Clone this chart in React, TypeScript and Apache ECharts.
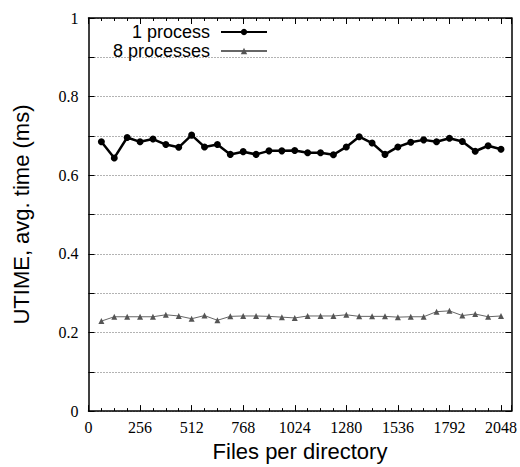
import React, { useEffect, useRef } from 'react';
import * as echarts from 'echarts';

// Files per directory at which each run was measured
const filesPerDirectory = [
  64, 128, 192, 256, 320, 384, 448, 512, 576, 640, 704, 768, 832, 896, 960, 1024,
  1088, 1152, 1216, 1280, 1344, 1408, 1472, 1536, 1600, 1664, 1728, 1792, 1856, 1920, 1984, 2048,
];

// Average UTIME (ms), one process
const oneProcess = [
  0.685, 0.644, 0.696, 0.685, 0.692, 0.678, 0.671, 0.702, 0.672, 0.678, 0.653, 0.66, 0.653, 0.662, 0.662, 0.663,
  0.657, 0.657, 0.652, 0.672, 0.698, 0.682, 0.653, 0.672, 0.684, 0.69, 0.685, 0.694, 0.686, 0.661, 0.675, 0.666,
];

// Average UTIME (ms), eight processes
const eightProcesses = [
  0.229, 0.24, 0.24, 0.24, 0.24, 0.245, 0.242, 0.235, 0.243, 0.231, 0.241, 0.242, 0.242, 0.241, 0.239, 0.237,
  0.242, 0.242, 0.242, 0.245, 0.241, 0.241, 0.241, 0.239, 0.24, 0.24, 0.253, 0.255, 0.243, 0.247, 0.24, 0.242,
];

const xTicks = [0, 256, 512, 768, 1024, 1280, 1536, 1792, 2048];
const yLabels = [0, 0.2, 0.4, 0.6, 0.8, 1];

const SERIF = 'Liberation Serif';
const SANS = 'Liberation Sans';

export default function App() {
  const ref = useRef<HTMLDivElement>(null);

  useEffect(() => {
    if (!ref.current) return;
    const chart = echarts.init(ref.current, null, { renderer: 'svg' });

    const pairs = (ys: number[]) => filesPerDirectory.map((x, i) => [x, ys[i]]);

    const xBase = {
      type: 'value' as const,
      min: 0,
      max: 2100,
      interval: 256,
      axisLine: { show: true, onZero: false, lineStyle: { color: '#000', width: 1.5 } },
      axisTick: { show: true, inside: true, length: 6, lineStyle: { color: '#000', width: 1 } },
      minorTick: { show: true, splitNumber: 4, length: 3, lineStyle: { color: '#000', width: 1 } },
      splitLine: { show: false },
    };

    const yBase = {
      type: 'value' as const,
      min: 0,
      max: 1,
      interval: 0.1,
      axisLine: { show: true, onZero: false, lineStyle: { color: '#000', width: 1.5 } },
      axisTick: { show: true, inside: true, length: 6, lineStyle: { color: '#000', width: 1 } },
    };

    const legendText = {
      fontFamily: SANS,
      fontSize: 18,
      lineHeight: 18,
      color: '#000',
      padding: [0, 6, 0, 0],
    };

    const tickLabel = {
      fontFamily: SERIF,
      fontSize: 16,
      fontWeight: 'normal' as const,
      color: '#000',
    };

    chart.setOption({
      animation: false,
      backgroundColor: '#fff',
      textStyle: { fontFamily: SERIF },
      grid: { left: 88.5, right: 8, top: 18, bottom: 53, containLabel: false },
      xAxis: [
        {
          ...xBase,
          position: 'bottom',
          name: 'Files per directory',
          nameLocation: 'middle',
          nameGap: 27,
          nameTextStyle: { fontFamily: SANS, fontSize: 22, color: '#000' },
          axisLabel: {
            ...tickLabel,
            show: true,
            showMaxLabel: false,
            margin: 8,
            formatter: (v: number) => (xTicks.includes(v) ? String(v) : ''),
          },
        },
        {
          ...xBase,
          position: 'top',
          axisLabel: { show: false },
        },
      ],
      yAxis: [
        {
          ...yBase,
          position: 'left',
          name: 'UTIME, avg. time (ms)',
          nameLocation: 'middle',
          nameGap: 56,
          nameTextStyle: { fontFamily: SANS, fontSize: 22, color: '#000' },
          axisLabel: {
            ...tickLabel,
            show: true,
            margin: 10,
            formatter: (v: number) => {
              const r = Math.round(v * 10) / 10;
              return yLabels.some((l) => Math.abs(l - r) < 1e-6) ? String(r) : '';
            },
          },
          splitLine: {
            show: true,
            lineStyle: { color: '#666', width: 1, type: [1, 2] },
          },
        },
        {
          ...yBase,
          position: 'right',
          axisLabel: { show: false },
          splitLine: { show: false },
        },
      ],
      legend: [
        {
          data: ['1 process'],
          orient: 'vertical',
          align: 'right',
          right: 252,
          top: 23,
          padding: 0,
          itemWidth: 46,
          itemHeight: 8,
          textStyle: legendText,
        },
        {
          data: ['8 processes'],
          orient: 'vertical',
          align: 'right',
          right: 252,
          top: 42,
          padding: 0,
          itemWidth: 46,
          itemHeight: 8,
          textStyle: legendText,
        },
      ],
      series: [
        {
          name: '1 process',
          type: 'line',
          data: pairs(oneProcess),
          symbol: 'circle',
          symbolSize: 7,
          itemStyle: { color: '#000' },
          lineStyle: { color: '#000', width: 2.5 },
        },
        {
          name: '8 processes',
          type: 'line',
          data: pairs(eightProcesses),
          symbol: 'triangle',
          symbolSize: 6,
          itemStyle: { color: '#555' },
          lineStyle: { color: '#666', width: 1 },
        },
      ],
    });

    return () => chart.dispose();
  }, []);

  return (
    <div
      ref={ref}
      style={{ position: 'absolute', left: 0, top: 0, width: 520, height: 467, background: '#fff' }}
    />
  );
}
